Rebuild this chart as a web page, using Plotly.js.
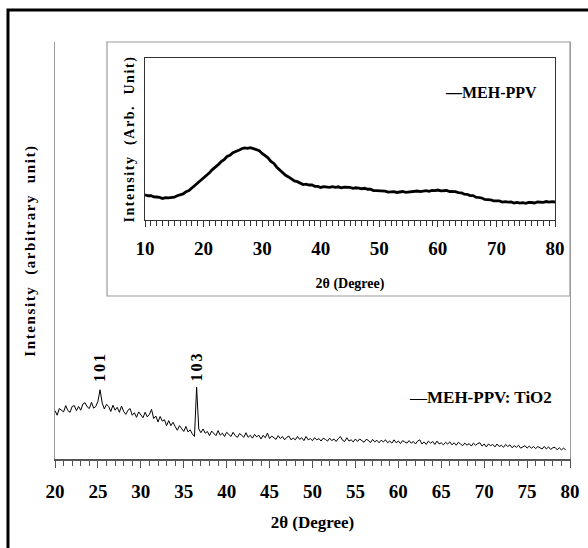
<!DOCTYPE html>
<html><head><meta charset="utf-8">
<script src="https://cdn.plot.ly/plotly-3.0.1.min.js"></script>
<style>html,body{margin:0;padding:0;background:#fff}#chart{width:588px;height:548px}</style>
</head><body><div id="chart"></div>
<script>
// MEH-PPV:TiO2 composite XRD pattern, 2θ from 20° in 0.25° steps (arbitrary counts)
const compositeStart = 20;
const compositeStep = 0.25;
const compositeIntensity = [
  116,105,121,116, 113,128,116,112, 126,128,116,126, 117,132,135,125, 121,136,122,126,
  138,166,134,120, 131,126,114,129, 117,124,112,127, 114,107,117,121, 105,111,100,113,
  107,99,112,101, 107,119,97,103, 89,102,91,94, 80,92,80,88, 78,69,80,74,
  66,78,65,70, 60,54,172,72, 63,72,62,66, 56,67,62,56, 68,57,62,54,
  64,60,54,64, 56,52,61,57, 52,63,52,57, 50,59,53,57, 48,57,51,62,
  49,55,52,47, 56,49,54,46, 52,55,46,50, 46,54,47,51, 44,54,46,49,
  44,51,46,49, 43,50,47,43, 50,44,48,42, 49,54,45,42, 51,43,46,41,
  48,42,48,43, 40,47,45,39, 47,41,45,39, 45,41,46,39, 43,38,46,39,
  43,37,44,41, 38,44,38,42, 36,43,46,36, 41,35,43,38, 42,35,43,36,
  39,34,40,36, 41,34,39,33, 40,36,32,38, 33,37,31,38, 33,37,39,31,
  36,29,36,32, 35,29,36,30, 33,28,35,30, 34,27,32,28, 33,26,30,32,
  26,31,26,30, 25,30,27,24, 30,24,29,23, 27,28,22,27, 22,26,22
];
// Pristine MEH-PPV XRD pattern (inset), 2θ from 10° in 0.5° steps
const pristineStart = 10;
const pristineStep = 0.5;
const pristineIntensity = [
  156,150,151,143,142,140,133,138,137,137,
  141,150,154,161,175,182,198,214,226,246,
  260,272,292,311,324,342,360,372,392,399,
  416,421,430,440,445,442,447,441,436,428,
  411,400,384,362,349,326,309,295,276,266,
  255,241,237,227,219,221,216,216,208,208,
  201,206,205,202,206,202,205,199,203,203,
  201,196,199,197,193,196,190,190,182,182,
  181,176,178,172,173,175,170,174,176,171,
  172,176,175,179,175,179,181,177,183,182,
  185,180,182,182,176,176,175,169,168,160,
  159,151,151,141,140,136,127,127,125,118,
  118,118,111,113,110,111,105,109,104,107,
  103,108,108,105,111,111,109,114,110,113,
  111
];
const peakLabels = ['101', '103'];
const peakPositions = [25.25, 36.5];
const peakLabelHeights = [221, 221];
const mainTickValues = [20,25,30,35,40,45,50,55,60,65,70,75,80];
const insetTickValues = [10,20,30,40,50,60,70,80];
const compositeName = 'MEH-PPV: TiO2';
const pristineName = 'MEH-PPV';

const F = 'Liberation Serif, Times New Roman, serif';

const traces = [
  {type:'scatter', mode:'lines', name:compositeName, x0:compositeStart, dx:compositeStep,
   y:compositeIntensity, xaxis:'x', yaxis:'y', line:{color:'#000', width:1}, showlegend:false},
  {type:'scatter', mode:'lines', name:pristineName, x0:pristineStart, dx:pristineStep,
   y:pristineIntensity, xaxis:'x2', yaxis:'y2', line:{color:'#000', width:2.8}, showlegend:false}
];

const annotations = peakLabels.map((t,i)=>({
  text:t, x:peakPositions[i], y:peakLabelHeights[i], xref:'x', yref:'y',
  textangle:-90, showarrow:false, font:{family:F, size:16, color:'#000', weight:'bold'}
}));
annotations.push({text:'\u2014<b>' + compositeName + '</b>', xref:'paper', yref:'paper',
  x:0.6835, y:0.1463, xanchor:'left', yanchor:'middle', showarrow:false,
  font:{family:F, size:17, color:'#000'}});
annotations.push({text:'<b>\u2014' + pristineName + '</b>', xref:'paper', yref:'paper',
  x:0.7534, y:0.8777, xanchor:'left', yanchor:'middle', showarrow:false,
  font:{family:F, size:16, color:'#000'}});

const layout = {
  width:588, height:548,
  margin:{l:55, r:18, t:42, b:89, pad:0},
  paper_bgcolor:'#fff', plot_bgcolor:'#fff',
  font:{family:F, color:'#000'},
  showlegend:false,
  xaxis:{range:[20,80], tickvals:mainTickValues, ticks:'outside', ticklen:7, tickwidth:1, tickcolor:'#555',
    minor:{ticks:'outside', dtick:1, ticklen:5, tickwidth:1, tickcolor:'#555'},
    showline:true, linecolor:'#555', linewidth:1.5, showgrid:false, zeroline:false,
    ticklabelstandoff:8,
    tickfont:{family:F, size:19, color:'#000', weight:'bold'},
    title:{text:'2\u03b8 (Degree)', font:{family:F, size:17, color:'#000', weight:'bold'}, standoff:15}},
  yaxis:{range:[0,1000], showticklabels:false, ticks:'', showgrid:false, zeroline:false,
    showline:true, linecolor:'#9a9a9a', linewidth:1.2, mirror:true,
    title:{text:'Intensity\u00a0\u00a0(arbitrary\u00a0\u00a0unit)', font:{family:F, size:15, color:'#000', weight:'bold'}, standoff:14}},
  xaxis2:{domain:[0.1748,0.9709], anchor:'y2', range:[10,80], tickvals:insetTickValues,
    ticks:'outside', ticklen:6, tickwidth:1, tickcolor:'#333',
    minor:{ticks:'outside', dtick:1, ticklen:5, tickwidth:1, tickcolor:'#333'},
    showline:true, mirror:true, linecolor:'#333', linewidth:1, showgrid:false, zeroline:false,
    ticklabelstandoff:5,
    tickfont:{family:F, size:19, color:'#000', weight:'bold'},
    title:{text:'2\u03b8 (Degree)', font:{family:F, size:14, color:'#000', weight:'bold'}, standoff:20}},
  yaxis2:{domain:[0.5731,0.9616], anchor:'x2', range:[0,1000], showticklabels:false, ticks:'',
    showline:true, mirror:true, linecolor:'#333', linewidth:1, showgrid:false, zeroline:false,
    title:{text:'Intensity\u00a0\u00a0(Arb.\u00a0\u00a0Unit)', font:{family:F, size:14, color:'#000', weight:'bold'}, standoff:6}},
  shapes:[
    {type:'rect', xref:'paper', yref:'paper', x0:-0.0913, x1:1.2, y0:-0.4, y1:1.0767,
     line:{color:'#000', width:3}, fillcolor:'rgba(0,0,0,0)', layer:'below'},
    {type:'rect', xref:'paper', yref:'paper', x0:0.101, x1:1.0, y0:0.3909, y1:1.0,
     line:{color:'#9a9a9a', width:1.2}, fillcolor:'#fff', layer:'below'}
  ],
  annotations:annotations
};

Plotly.newPlot('chart', traces, layout, {displayModeBar:false, staticPlot:true}).then(function(gd){
  gd.querySelectorAll('.g-ytitle text, .g-y2title text').forEach(function(t){ t.style.letterSpacing = '1.6px'; });
  gd.querySelectorAll('.annotation-text').forEach(function(t){
    if (peakLabels.indexOf(t.textContent) >= 0) t.style.letterSpacing = '2px';
  });
});
</script>
</body></html>
